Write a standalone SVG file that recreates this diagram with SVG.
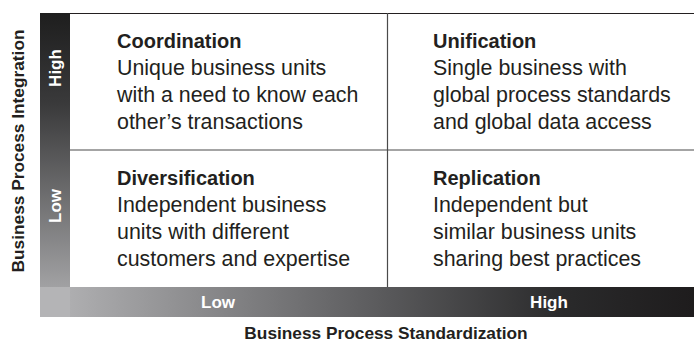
<svg xmlns="http://www.w3.org/2000/svg" width="694" height="344" viewBox="0 0 694 344">
<defs>
<linearGradient id="gv" x1="0" y1="0" x2="0" y2="1">
<stop offset="0" stop-color="#1e1e1e"/>
<stop offset="0.3" stop-color="#3a3a3b"/>
<stop offset="1" stop-color="#b2b2b4"/>
</linearGradient>
<linearGradient id="gh" x1="0" y1="0" x2="1" y2="0">
<stop offset="0" stop-color="#b6b6b8"/>
<stop offset="0.5" stop-color="#5e5e60"/>
<stop offset="0.8" stop-color="#2a2a2b"/>
<stop offset="1" stop-color="#1e1c1d"/>
</linearGradient>
<style>
.t{font-family:"Liberation Sans",Arial,sans-serif;font-size:20px;font-weight:bold;fill:#231f20}
.b{font-family:"Liberation Sans",Arial,sans-serif;font-size:21.4px;fill:#231f20}
.ax{font-family:"Liberation Sans",Arial,sans-serif;font-size:17.3px;font-weight:bold;fill:#231f20;text-anchor:middle}
.al{font-family:"Liberation Sans",Arial,sans-serif;font-size:17px;font-weight:bold;fill:#ffffff;text-anchor:middle}
.ln{stroke:#4a4a4a;stroke-width:1.2;fill:none}
</style>
</defs>
<rect width="694" height="344" fill="#ffffff"/>
<g id="axes">
<rect x="40" y="13" width="30" height="304" fill="url(#gv)"/>
<rect x="40" y="287" width="654" height="30" fill="url(#gh)"/>
<rect x="40" y="287" width="30" height="30" fill="#b4b4b6"/>
<text class="al" transform="translate(61,68) rotate(-90)">High</text>
<text class="al" transform="translate(61,206) rotate(-90)">Low</text>
<text class="al" x="218" y="308">Low</text>
<text class="al" x="549" y="308">High</text>
<text class="ax" transform="translate(24,151) rotate(-90)">Business Process Integration</text>
<text class="ax" x="386" y="339">Business Process Standardization</text>
</g>
<g id="connectors">
<line class="ln" x1="70" y1="13.5" x2="694" y2="13.5" style="stroke:#231f20"/>
<line class="ln" x1="70" y1="150" x2="694" y2="150"/>
<line class="ln" x1="387.5" y1="13" x2="387.5" y2="287"/>
</g>
<g id="coordination">
<text class="t" x="117" y="48">Coordination</text>
<text class="b" x="117" y="75">Unique business units</text>
<text class="b" x="117" y="102">with a need to know each</text>
<text class="b" x="117" y="129">other’s transactions</text>
</g>
<g id="unification">
<text class="t" x="433" y="48">Unification</text>
<text class="b" x="433" y="75">Single business with</text>
<text class="b" x="433" y="102">global process standards</text>
<text class="b" x="433" y="129">and global data access</text>
</g>
<g id="diversification">
<text class="t" x="117" y="185">Diversification</text>
<text class="b" x="117" y="212">Independent business</text>
<text class="b" x="117" y="239">units with different</text>
<text class="b" x="117" y="266">customers and expertise</text>
</g>
<g id="replication">
<text class="t" x="433" y="185">Replication</text>
<text class="b" x="433" y="212">Independent but</text>
<text class="b" x="433" y="239">similar business units</text>
<text class="b" x="433" y="266">sharing best practices</text>
</g>
</svg>
